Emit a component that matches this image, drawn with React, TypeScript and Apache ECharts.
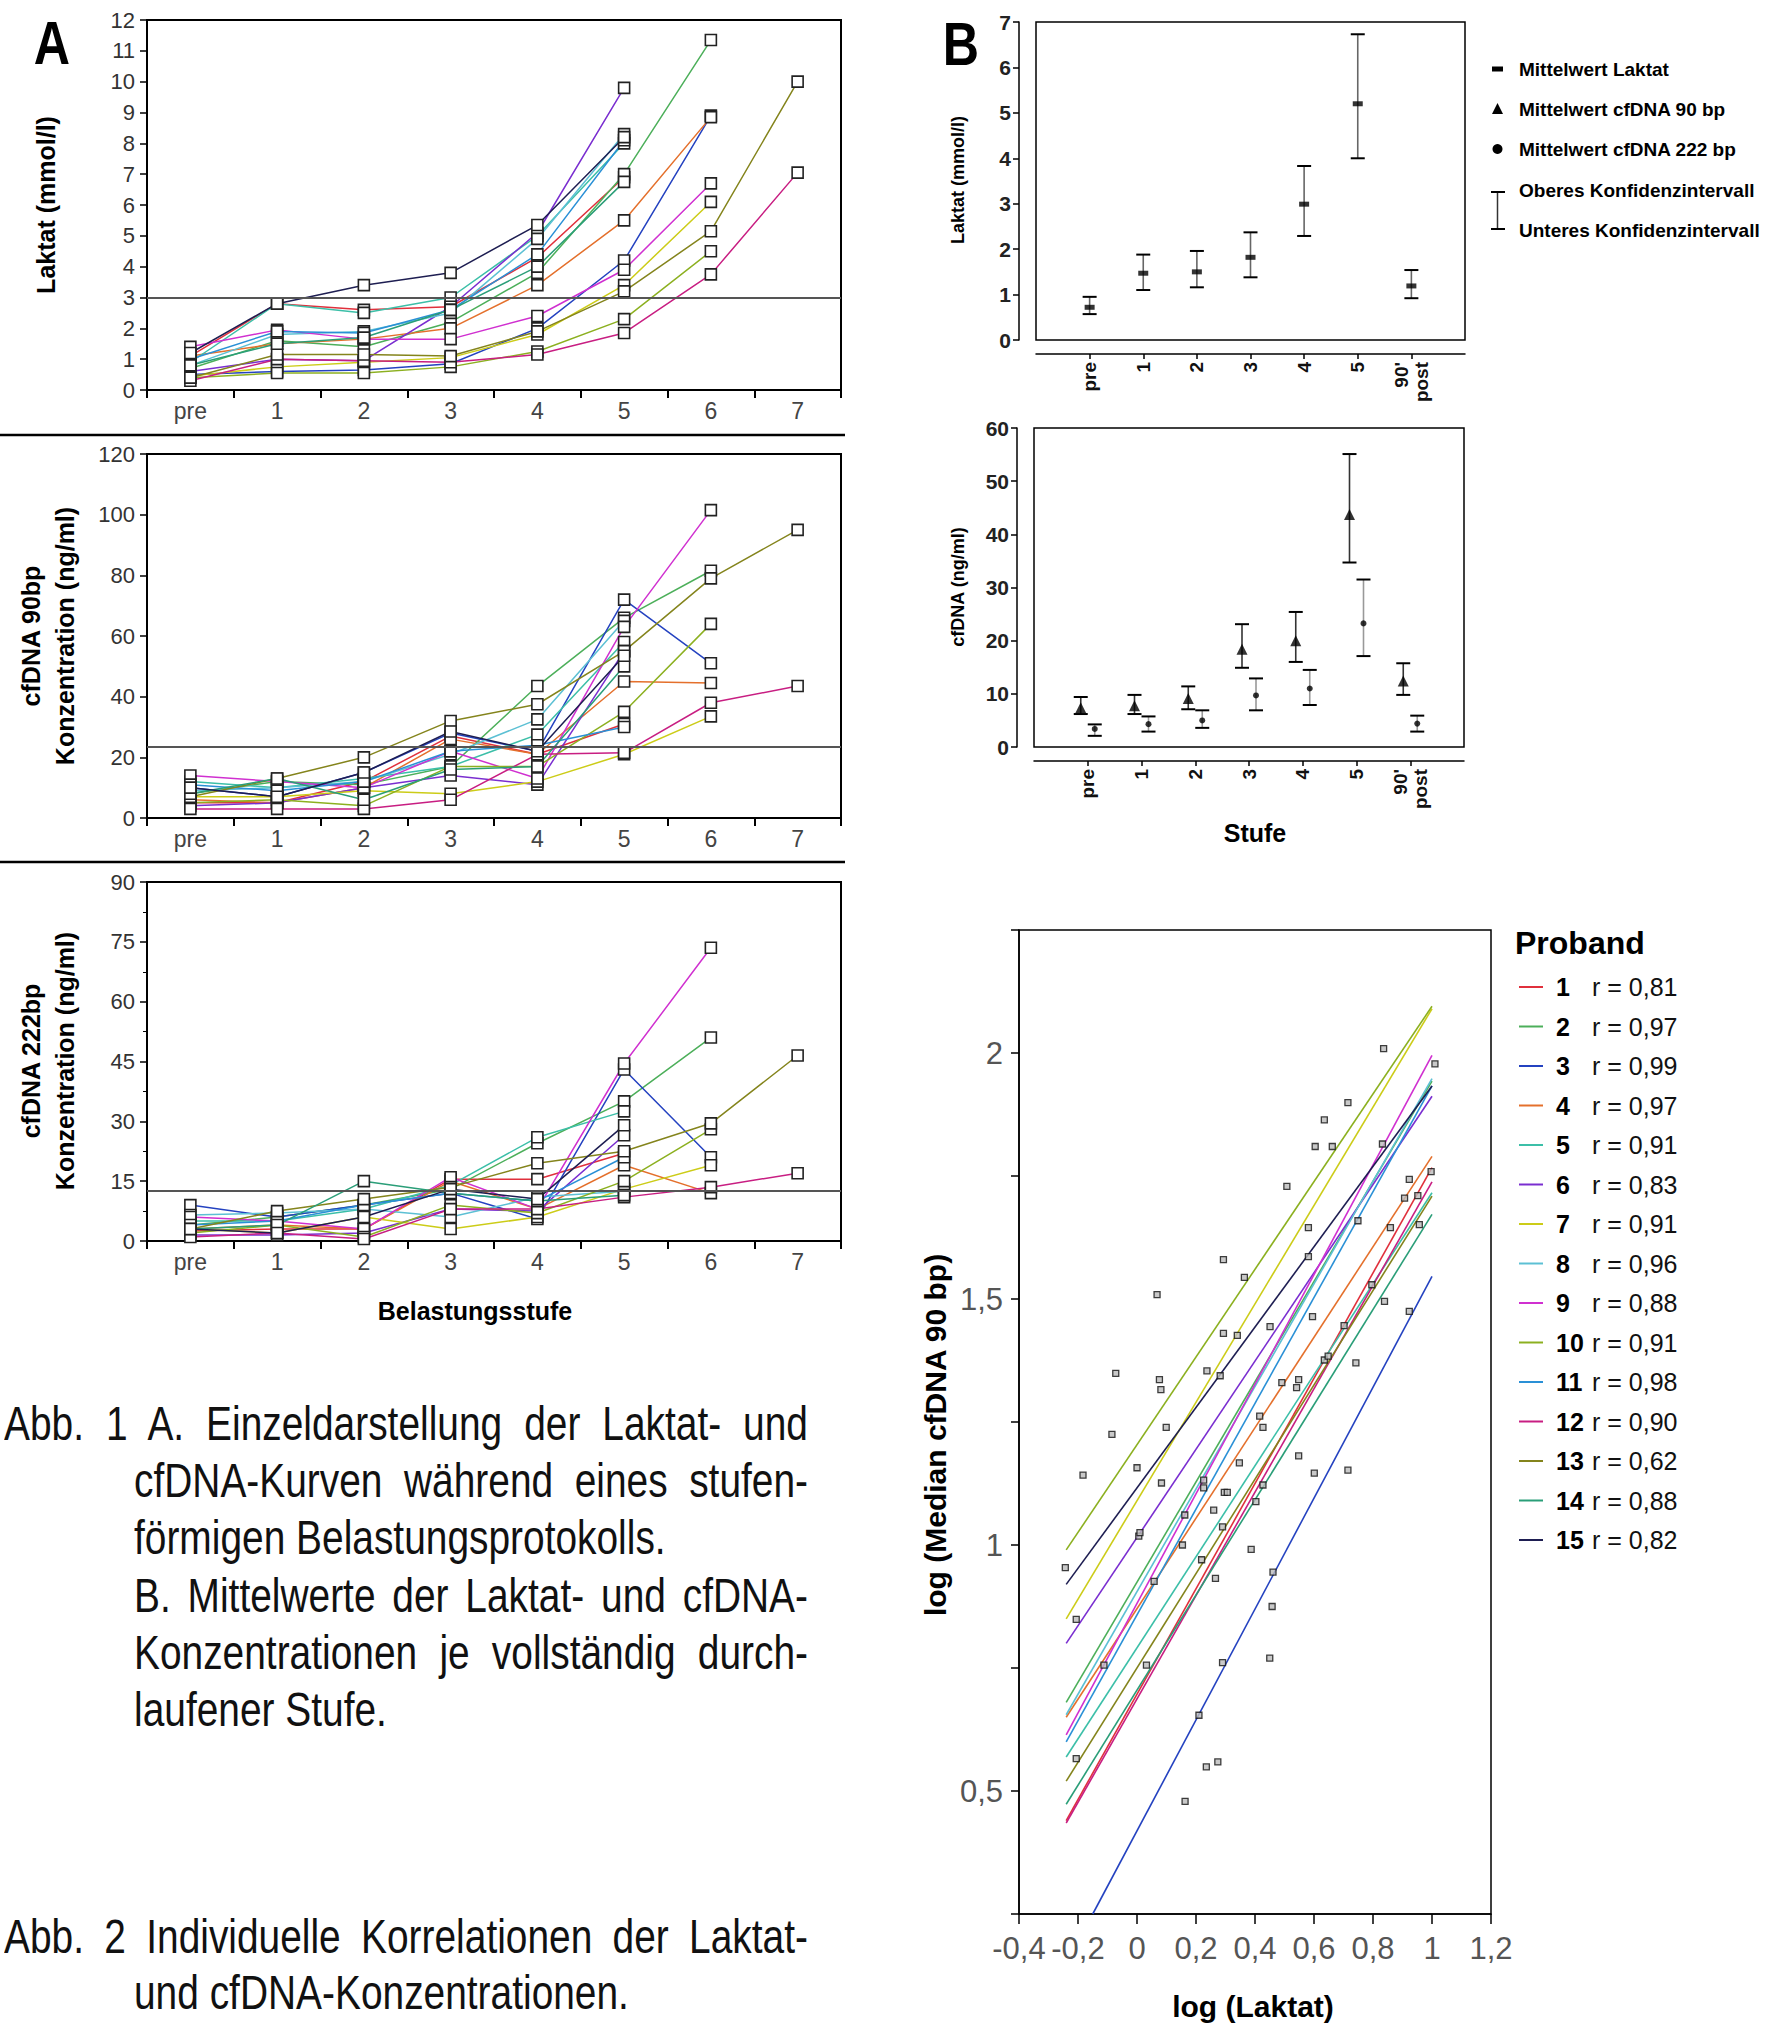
import React, { useEffect, useRef } from 'react';
import * as echarts from 'echarts';

// ---------------- DATA ----------------
const stageLabels = ['pre', '1', '2', '3', '4', '5', '6', '7'];
const probandIds = ['1', '2', '3', '4', '5', '6', '7', '8', '9', '10', '11', '12', '13', '14', '15'];
const probandColors = ['#e0303c', '#4caf5a', '#2442c0', '#e4702c', '#3cbfa8', '#7a2ed0', '#cccc18', '#5cc0d4', '#d030d0', '#8cb020', '#2a90d6', '#c81e82', '#84841c', '#2a9e78', '#1e1e52'];
const rValues = ['0,81', '0,97', '0,99', '0,97', '0,91', '0,83', '0,91', '0,96', '0,88', '0,91', '0,98', '0,90', '0,62', '0,88', '0,82'];

const laktatValues = [
  [1.1, 2.8, 2.6, 2.7, 4.3, 6.9],
  [0.7, 1.6, 1.4, 2.2, 3.8, 7.0, 11.35],
  [0.5, 0.6, 0.65, 0.85, 2.0, 4.2, 8.9],
  [1.1, 1.5, 1.65, 2.0, 3.4, 5.5, 8.85],
  [0.9, 2.8, 2.5, 3.0, 5.0, 8.0],
  [0.6, 1.0, 0.95, 2.7, 5.1, 9.8],
  [0.45, 0.75, 0.9, 1.05, 1.8, 3.4, 6.1],
  [0.8, 1.8, 1.9, 2.5, 4.9, 8.3],
  [1.4, 1.95, 1.65, 1.65, 2.4, 3.9, 6.7],
  [0.4, 0.55, 0.55, 0.75, 1.25, 2.3, 4.5],
  [1.0, 1.9, 1.85, 2.6, 4.4, 8.1],
  [0.3, 1.0, 0.95, 0.9, 1.15, 1.85, 3.75, 7.05],
  [0.4, 1.15, 1.15, 1.1, 1.9, 3.2, 5.15, 10.0],
  [0.8, 1.5, 1.7, 2.6, 4.0, 6.75],
  [1.2, 2.8, 3.4, 3.8, 5.35, 8.2],
];
const cfdna90Values = [
  [5, 5, 12, 27, 21, 31],
  [8, 12, 11, 17, 43.5, 66, 81.5],
  [10, 7, 15, 28, 22, 72, 51],
  [6, 5, 10, 26, 21, 45, 44.5],
  [12, 10, 13, 17, 27.5, 58],
  [4, 5, 10, 14, 11, 55],
  [7, 7, 9, 8, 12, 21, 33.5],
  [9, 10, 12, 21, 32.5, 65],
  [14, 12, 10, 22, 13, 63, 101.5],
  [5, 6, 4, 17, 17, 35, 64],
  [11, 9, 12, 22, 24, 30],
  [3, 3, 3, 6, 21, 21.5, 38, 43.5],
  [7, 13, 20, 32, 37.5, 55, 79, 95],
  [8, 13, 6, 16, 17, 50],
  [10, 7, 15, 28.5, 22, 53.5],
];
const cfdna222Values = [
  [2.5, 3, 3, 15.5, 15.5, 22],
  [4, 6, 9, 13, 24.5, 35, 51],
  [9, 6, 9, 12, 5.5, 43, 21],
  [3, 4, 3, 15, 8, 19, 12],
  [5, 5, 8, 14, 26, 32.5],
  [1.5, 1.5, 2, 8, 7.5, 26.5],
  [3, 2, 6, 3, 6, 13, 19],
  [6.5, 7, 8, 6, 11, 12.5],
  [6, 5, 3, 16, 8, 44.5, 73.5],
  [2, 4, 1, 9, 7, 15, 28],
  [4, 5, 9, 12, 10, 21],
  [1, 2, 0.5, 8, 8, 11, 13.5, 17],
  [3, 7.5, 10.5, 13.5, 19.5, 22.5, 29.5, 46.5],
  [3, 4, 15, 12, 10, 11.5],
  [3, 2, 6, 13, 10.5, 29],
];
const referenceValues = [3.0, 23.6, 12.6];

const bCategories = ['', 'pre', '1', '2', '3', '4', '5', "90'\npost", ''];
const bLaktatMean = [0.72, 1.47, 1.5, 1.82, 2.99, 5.2, 1.19];
const bLaktatLow = [0.57, 1.1, 1.16, 1.38, 2.29, 4.0, 0.92];
const bLaktatHigh = [0.95, 1.88, 1.96, 2.37, 3.83, 6.73, 1.54];
const b90Mean = [7.4, 7.75, 9.1, 18.4, 20.0, 43.75, 12.4];
const b90Low = [6.2, 6.2, 7.1, 14.9, 16.0, 34.7, 9.8];
const b90High = [9.4, 9.8, 11.4, 23.1, 25.4, 55.1, 15.75];
const b222Mean = [3.4, 4.3, 5.0, 9.7, 11.0, 23.25, 4.4];
const b222Low = [2.1, 2.9, 3.6, 6.9, 7.9, 17.1, 2.9];
const b222High = [4.25, 5.75, 6.9, 12.9, 14.5, 31.5, 5.9];
const bLegendItems = ['Mittelwert Laktat', 'Mittelwert cfDNA 90 bp', 'Mittelwert cfDNA 222 bp', 'Oberes Konfidenzintervall', 'Unteres Konfidenzintervall'];

const fitStartX = [-0.24, -0.24, -0.15, -0.24, -0.24, -0.24, -0.24, -0.24, -0.24, -0.24, -0.24, -0.24, -0.24, -0.24, -0.24];
const fitStartY = [0.44, 0.68, 0.25, 0.65, 0.569, 0.8, 0.85, 0.655, 0.614, 0.99, 0.6, 0.435, 0.52, 0.473, 0.92];
const fitEndX = [1.0, 1.0, 1.0, 1.0, 1.0, 1.0, 1.0, 1.0, 1.0, 1.0, 1.0, 1.0, 1.0, 1.0, 1.0];
const fitEndY = [1.767, 1.943, 1.546, 1.79, 1.716, 1.912, 2.09, 1.948, 1.995, 2.095, 1.933, 1.738, 1.709, 1.672, 1.933];

const scatterPoints = [
  [0.836, 2.009], [1.01, 1.978], [0.715, 1.899], [0.635, 1.864], [0.604, 1.81], [0.662, 1.81], [0.832, 1.815],
  [0.508, 1.729], [0.923, 1.743], [0.997, 1.759], [0.907, 1.705], [0.952, 1.71], [0.749, 1.659], [0.859, 1.645],
  [0.581, 1.645], [0.957, 1.651], [0.581, 1.586], [0.293, 1.58], [0.364, 1.544], [0.068, 1.509], [0.796, 1.529],
  [0.839, 1.495], [0.923, 1.475], [0.595, 1.464], [0.451, 1.444], [0.702, 1.446], [0.293, 1.43], [0.34, 1.426],
  [0.742, 1.37], [0.635, 1.376], [0.648, 1.384], [0.237, 1.354], [0.282, 1.344], [-0.072, 1.349], [0.076, 1.336],
  [0.081, 1.316], [0.491, 1.33], [0.548, 1.336], [0.541, 1.32], [0.416, 1.262], [0.427, 1.239], [0.099, 1.239],
  [-0.085, 1.225], [0.548, 1.181], [-0.183, 1.142], [0.0, 1.157], [0.083, 1.126], [0.226, 1.132], [0.226, 1.116],
  [0.347, 1.167], [0.296, 1.107], [0.306, 1.107], [0.601, 1.146], [0.715, 1.152], [0.403, 1.088], [0.427, 1.122],
  [0.162, 1.061], [0.26, 1.071], [0.006, 1.018], [0.01, 1.025], [0.154, 1.0], [0.29, 1.037], [0.387, 0.991],
  [0.219, 0.97], [-0.243, 0.954], [0.461, 0.945], [0.266, 0.932], [0.058, 0.926], [-0.206, 0.849], [0.458, 0.875],
  [-0.112, 0.756], [0.032, 0.756], [0.29, 0.761], [0.45, 0.77], [0.21, 0.654], [-0.206, 0.566], [0.235, 0.549],
  [0.274, 0.559], [0.163, 0.479],
];

const captionLines = [
  { text: 'Abb. 1 A. Einzeldarstellung der Laktat- und', x: 4, w: 804, cy: 1424, justify: true },
  { text: 'cfDNA-Kurven während eines stufen-', x: 134, w: 674, cy: 1481, justify: true },
  { text: 'förmigen Belastungsprotokolls.', x: 134, w: 674, cy: 1538, justify: false },
  { text: 'B. Mittelwerte der Laktat- und cfDNA-', x: 134, w: 674, cy: 1596, justify: true },
  { text: 'Konzentrationen je vollständig durch-', x: 134, w: 674, cy: 1653, justify: true },
  { text: 'laufener Stufe.', x: 134, w: 674, cy: 1710, justify: false },
  { text: 'Abb. 2 Individuelle Korrelationen der Laktat-', x: 4, w: 804, cy: 1937, justify: true },
  { text: 'und cfDNA-Konzentrationen.', x: 134, w: 674, cy: 1993, justify: false },
];

// ---------------- STYLE ----------------
const SANS = "'Liberation Sans', Arial, Helvetica, sans-serif";
const NARROW_SCALE = 0.81;

function txt(text: string, x: number, y: number, size: number, o: any = {}) {
  return {
    type: 'text', x, y, rotation: o.rot || 0, scaleX: o.sx || 1, silent: true,
    style: {
      text, fontSize: size, fontFamily: SANS, fontWeight: o.weight || 'normal',
      fill: o.fill || '#000', align: o.align || 'center', verticalAlign: o.valign || 'middle',
    },
  };
}

function makeErrorBar(offsetPx: number, stem: string) {
  return (params: any, api: any) => {
    const x = api.value(0);
    const pHi = api.coord([x, api.value(2)]);
    const pLo = api.coord([x, api.value(1)]);
    const cx = pHi[0] + offsetPx;
    const cap = 7;
    return {
      type: 'group',
      children: [
        { type: 'line', shape: { x1: cx, y1: pHi[1], x2: cx, y2: pLo[1] }, style: { stroke: stem, lineWidth: 1.6 } },
        { type: 'line', shape: { x1: cx - cap, y1: pHi[1], x2: cx + cap, y2: pHi[1] }, style: { stroke: '#000', lineWidth: 2 } },
        { type: 'line', shape: { x1: cx - cap, y1: pLo[1], x2: cx + cap, y2: pLo[1] }, style: { stroke: '#000', lineWidth: 2 } },
      ],
    };
  };
}

function buildOption(): any {
  const grid = [
    { left: 147, top: 20, width: 694, height: 370, borderWidth: 2 },
    { left: 147, top: 454, width: 694, height: 364, borderWidth: 2 },
    { left: 147, top: 882, width: 694, height: 359, borderWidth: 2 },
    { left: 1036, top: 22, width: 429, height: 318, borderWidth: 1.5 },
    { left: 1034, top: 428, width: 430, height: 319, borderWidth: 1.5 },
    { left: 1019, top: 930, width: 472, height: 984, borderWidth: 1.5 },
  ].map((g) => ({ show: true, borderColor: '#000', backgroundColor: 'transparent', ...g }));

  const aX = (i: number) => ({
    type: 'category', gridIndex: i, data: stageLabels, boundaryGap: true,
    axisLine: { show: true, onZero: false, lineStyle: { color: '#000', width: 2 } },
    axisTick: { show: true, length: 8, lineStyle: { color: '#000', width: 2 } },
    axisLabel: { color: '#444', fontSize: 23, fontFamily: SANS, margin: 9 },
    splitLine: { show: false },
  });
  const aY = (i: number, max: number, interval: number, minor: boolean) => ({
    type: 'value', gridIndex: i, min: 0, max, interval,
    axisLine: { show: true, onZero: false, lineStyle: { color: '#000', width: 1.5 } },
    axisTick: { show: true, length: 7, lineStyle: { color: '#000', width: 1.5 } },
    minorTick: { show: minor, splitNumber: 2, length: 4, lineStyle: { color: '#000' } },
    axisLabel: { color: '#333', fontSize: 22, fontFamily: SANS, margin: 12 },
    splitLine: { show: false },
  });
  const bX = (i: number) => ({
    type: 'category', gridIndex: i, data: bCategories, boundaryGap: false, offset: 14,
    axisLine: { show: true, onZero: false, lineStyle: { color: '#000', width: 1.5 } },
    axisTick: { show: true, length: 5, interval: (idx: number, v: string) => v !== '', lineStyle: { color: '#000', width: 1.5 } },
    axisLabel: { interval: 0, rotate: 90, color: '#111', fontSize: 19, fontWeight: 'bold', fontFamily: SANS, margin: 8, lineHeight: 20 },
    splitLine: { show: false },
  });
  const bY = (i: number, max: number, interval: number) => ({
    type: 'value', gridIndex: i, min: 0, max, interval, offset: 17,
    axisLine: { show: true, onZero: false, lineStyle: { color: '#000', width: 1.5 } },
    axisTick: { show: true, length: 6, lineStyle: { color: '#000', width: 1.5 } },
    axisLabel: { color: '#222', fontSize: 21, fontWeight: 'bold', fontFamily: SANS, margin: 8 },
    splitLine: { show: false },
  });

  const xAxis = [aX(0), aX(1), aX(2), bX(3), bX(4), {
    type: 'value', gridIndex: 5, min: -0.4, max: 1.2, interval: 0.2,
    axisLine: { show: true, onZero: false, lineStyle: { color: '#000', width: 1.5 } },
    axisTick: { show: true, length: 10, lineStyle: { color: '#000', width: 1.5 } },
    axisLabel: {
      color: '#555', fontSize: 31, fontFamily: SANS, margin: 19,
      formatter: (v: number) => String(Math.round(v * 10) / 10).replace('.', ','),
    },
    splitLine: { show: false },
  }];
  const yAxis = [aY(0, 12, 1, false), aY(1, 120, 20, false), aY(2, 90, 15, true), bY(3, 7, 1), bY(4, 60, 10), {
    type: 'value', gridIndex: 5, min: 0.25, max: 2.25, interval: 0.25,
    axisLine: { show: true, onZero: false, lineStyle: { color: '#000', width: 1.5 } },
    axisTick: { show: true, length: 8, lineStyle: { color: '#000', width: 1.5 } },
    axisLabel: {
      color: '#555', fontSize: 31, fontFamily: SANS, margin: 16,
      formatter: (v: number) => {
        const r = Math.round(v * 100) / 100;
        if (Math.abs(r * 2 - Math.round(r * 2)) > 1e-6) return '';
        return String(r).replace('.', ',');
      },
    },
    splitLine: { show: false },
  }];

  const series: any[] = [];
  const panels = [laktatValues, cfdna90Values, cfdna222Values];
  panels.forEach((pd, p) => {
    pd.forEach((vals, i) => {
      series.push({
        type: 'line', xAxisIndex: p, yAxisIndex: p, data: vals, silent: true,
        symbol: 'rect', symbolSize: 11, showAllSymbol: true,
        lineStyle: { color: probandColors[i], width: 1.5 },
        itemStyle: { color: '#fff', borderColor: '#222', borderWidth: 1.6 },
        markLine: i === 0 ? {
          silent: true, symbol: ['none', 'none'], label: { show: false },
          lineStyle: { color: '#555', width: 2, type: 'solid' },
          data: [{ yAxis: referenceValues[p] }],
        } : undefined,
      });
    });
  });

  // B1: Laktat means
  series.push({
    type: 'custom', xAxisIndex: 3, yAxisIndex: 3, silent: true, z: 3,
    data: bLaktatMean.map((m, k) => [k + 1, bLaktatLow[k], bLaktatHigh[k]]),
    renderItem: makeErrorBar(0, '#666'),
  });
  series.push({
    type: 'scatter', xAxisIndex: 3, yAxisIndex: 3, silent: true, z: 4,
    data: bLaktatMean.map((m, k) => [k + 1, m]),
    symbol: 'rect', symbolSize: [10, 5], itemStyle: { color: '#000' },
  });
  // B2: cfDNA means
  series.push({
    type: 'custom', xAxisIndex: 4, yAxisIndex: 4, silent: true, z: 3,
    data: b90Mean.map((m, k) => [k + 1, b90Low[k], b90High[k]]),
    renderItem: makeErrorBar(-7, '#333'),
  });
  series.push({
    type: 'custom', xAxisIndex: 4, yAxisIndex: 4, silent: true, z: 3,
    data: b222Mean.map((m, k) => [k + 1, b222Low[k], b222High[k]]),
    renderItem: makeErrorBar(7, '#999'),
  });
  series.push({
    type: 'scatter', xAxisIndex: 4, yAxisIndex: 4, silent: true, z: 4,
    data: b90Mean.map((m, k) => [k + 1, m]),
    symbol: 'triangle', symbolSize: 11, symbolOffset: [-7, 0], itemStyle: { color: '#000' },
  });
  series.push({
    type: 'scatter', xAxisIndex: 4, yAxisIndex: 4, silent: true, z: 4,
    data: b222Mean.map((m, k) => [k + 1, m]),
    symbol: 'circle', symbolSize: 6, symbolOffset: [7, 0], itemStyle: { color: '#000' },
  });

  // Correlation panel
  probandIds.forEach((id, i) => {
    series.push({
      type: 'line', xAxisIndex: 5, yAxisIndex: 5, silent: true, symbol: 'none',
      data: [[fitStartX[i], fitStartY[i]], [fitEndX[i], fitEndY[i]]],
      lineStyle: { color: probandColors[i], width: 1.6 },
    });
  });
  series.push({
    type: 'scatter', xAxisIndex: 5, yAxisIndex: 5, silent: true, z: 5,
    data: scatterPoints, symbol: 'rect', symbolSize: 6,
    itemStyle: { color: '#bbb', borderColor: '#111', borderWidth: 1.3 },
  });

  const graphic: any[] = [];
  graphic.push({ type: 'line', shape: { x1: 0, y1: 435, x2: 845, y2: 435 }, style: { stroke: '#000', lineWidth: 2.5 }, silent: true });
  graphic.push({ type: 'line', shape: { x1: 0, y1: 862, x2: 845, y2: 862 }, style: { stroke: '#000', lineWidth: 2.5 }, silent: true });
  graphic.push(txt('A', 52, 43, 62, { weight: 'bold', sx: NARROW_SCALE }));
  graphic.push(txt('B', 961, 44, 62, { weight: 'bold', sx: NARROW_SCALE }));
  const R = Math.PI / 2;
  graphic.push(txt('Laktat (mmol/l)', 46, 205, 25, { weight: 'bold', rot: R }));
  graphic.push(txt('cfDNA 90bp', 31, 636, 25, { weight: 'bold', rot: R }));
  graphic.push(txt('Konzentration (ng/ml)', 65, 636, 25, { weight: 'bold', rot: R }));
  graphic.push(txt('cfDNA 222bp', 31, 1061, 25, { weight: 'bold', rot: R }));
  graphic.push(txt('Konzentration (ng/ml)', 65, 1061, 25, { weight: 'bold', rot: R }));
  graphic.push(txt('Belastungsstufe', 475, 1311, 25, { weight: 'bold' }));
  graphic.push(txt('Laktat (mmol/l)', 958, 180, 18, { weight: 'bold', rot: R }));
  graphic.push(txt('cfDNA (ng/ml)', 958, 587, 18, { weight: 'bold', rot: R }));
  graphic.push(txt('Stufe', 1255, 833, 25, { weight: 'bold' }));
  const ly = [69, 109, 149, 190, 230];
  graphic.push({ type: 'rect', shape: { x: 1492, y: ly[0] - 2.5, width: 11, height: 5 }, style: { fill: '#000' }, silent: true });
  graphic.push({ type: 'polygon', shape: { points: [[1497.5, ly[1] - 6], [1492, ly[1] + 5], [1503, ly[1] + 5]] }, style: { fill: '#000' }, silent: true });
  graphic.push({ type: 'circle', shape: { cx: 1497.5, cy: ly[2], r: 5 }, style: { fill: '#000' }, silent: true });
  graphic.push({ type: 'line', shape: { x1: 1497.5, y1: ly[3] + 2, x2: 1497.5, y2: ly[4] - 1 }, style: { stroke: '#333', lineWidth: 1.5 }, silent: true });
  graphic.push({ type: 'line', shape: { x1: 1491, y1: ly[3] + 2, x2: 1505, y2: ly[3] + 2 }, style: { stroke: '#000', lineWidth: 2 }, silent: true });
  graphic.push({ type: 'line', shape: { x1: 1491, y1: ly[4] - 1, x2: 1505, y2: ly[4] - 1 }, style: { stroke: '#000', lineWidth: 2 }, silent: true });
  bLegendItems.forEach((t, k) => graphic.push(txt(t, 1519, ly[k], 19, { weight: 'bold', align: 'left' })));
  graphic.push(txt('log (Median cfDNA 90 bp)', 935, 1435, 30, { weight: 'bold', rot: R }));
  graphic.push(txt('log (Laktat)', 1253, 2006, 30, { weight: 'bold' }));
  graphic.push(txt('Proband', 1515, 943, 32, { weight: 'bold', align: 'left' }));
  probandIds.forEach((id, i) => {
    const y = 987 + 39.5 * i;
    graphic.push({ type: 'line', shape: { x1: 1519, y1: y, x2: 1543, y2: y }, style: { stroke: probandColors[i], lineWidth: 2 }, silent: true });
    graphic.push(txt(id, 1556, y, 25, { weight: 'bold', align: 'left' }));
    graphic.push(txt('r = ' + rValues[i], 1592, y, 25, { align: 'left', fill: '#111' }));
  });

  return { animation: false, backgroundColor: '#fff', grid, xAxis, yAxis, series, graphic };
}

export default function App() {
  const ref = useRef<HTMLDivElement>(null);
  useEffect(() => {
    document.body.style.margin = '0';
    const chart = echarts.init(ref.current as HTMLDivElement, null, { renderer: 'svg' });
    chart.setOption(buildOption());
    return () => chart.dispose();
  }, []);
  return (
    <div style={{ position: 'relative', width: 1779, height: 2036, background: '#fff', overflow: 'hidden' }}>
      <div ref={ref} style={{ position: 'absolute', left: 0, top: 0, width: 1779, height: 2036 }} />
      {captionLines.map((c, k) => (
        <div
          key={k}
          style={{
            position: 'absolute', left: c.x, top: c.cy - 29, width: c.w / NARROW_SCALE, height: 58, lineHeight: '58px',
            fontFamily: SANS, fontSize: 48, color: '#111', whiteSpace: 'normal',
            transform: `scaleX(${NARROW_SCALE})`, transformOrigin: '0 0',
            textAlign: c.justify ? 'justify' : 'left', textAlignLast: c.justify ? 'justify' : 'left',
          } as any}
        >
          {c.text}
        </div>
      ))}
    </div>
  );
}
